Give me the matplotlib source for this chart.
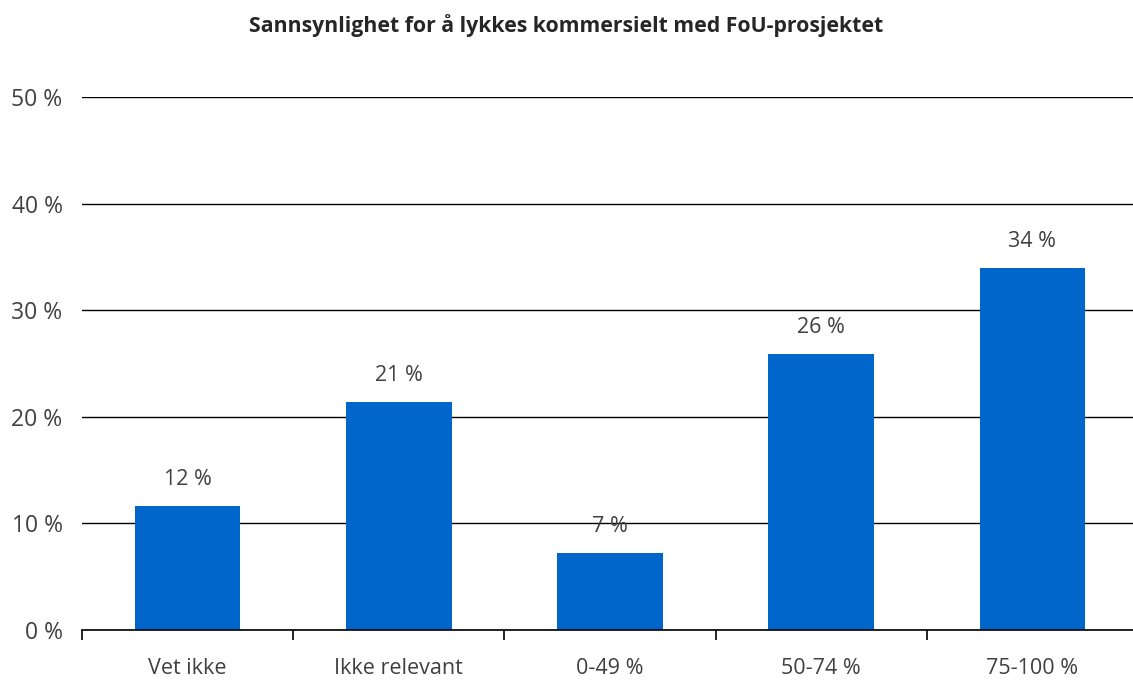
import numpy as np
import matplotlib.pyplot as plt
from matplotlib.ticker import FixedLocator, FuncFormatter

plt.rcParams['font.family'] = ['Open Sans', 'DejaVu Sans']

categories = ["Vet ikke", "Ikke relevant", "0-49 %", "50-74 %", "75-100 %"]
shares = [11.6, 21.4, 7.2, 25.9, 34.0]
yticks = [0, 10, 20, 30, 40, 50]
title = "Sannsynlighet for å lykkes kommersielt med FoU-prosjektet"

bar_color = "#0066CC"
text_color = "#404040"
fs = 15.5

fig = plt.figure(figsize=(11.33, 6.8), dpi=100)
ax = fig.add_axes([82 / 1133, 50 / 680, 1056 / 1133, 533 / 680])

x = np.arange(len(categories))
ax.bar(x, shares, width=0.5, color=bar_color, zorder=3)

for xi, v in zip(x, shares):
    ax.text(xi, v + 1.5, f"{v:.0f} %", ha="center", va="bottom",
            fontsize=fs, color=text_color)

ax.set_xlim(-0.5, len(categories) - 0.5)
ax.set_ylim(0, 50)
ax.set_yticks(yticks)
ax.yaxis.set_major_formatter(FuncFormatter(lambda v, p: f"{v:.0f} %"))
ax.grid(axis="y", color="black", linewidth=1.0, zorder=0)
ax.tick_params(axis="y", length=0, pad=14, labelsize=16.5, labelcolor=text_color)

ax.set_xticks(x)
ax.set_xticklabels(categories)
ax.xaxis.set_minor_locator(FixedLocator(np.arange(len(categories) + 1) - 0.5))
ax.tick_params(axis="x", which="major", length=0, pad=20, labelsize=fs,
               labelcolor=text_color)
ax.tick_params(axis="x", which="minor", length=7, width=1.2, color="black")

for side in ["top", "right", "left"]:
    ax.spines[side].set_visible(False)
ax.spines["bottom"].set_linewidth(1.2)
ax.spines["bottom"].set_zorder(4)

fig.text(0.5, 1 - 26 / 680, title, ha="center", va="center",
         fontsize=15.3, fontweight="bold", color="#262626")

fig.savefig("out.png", dpi=100)
